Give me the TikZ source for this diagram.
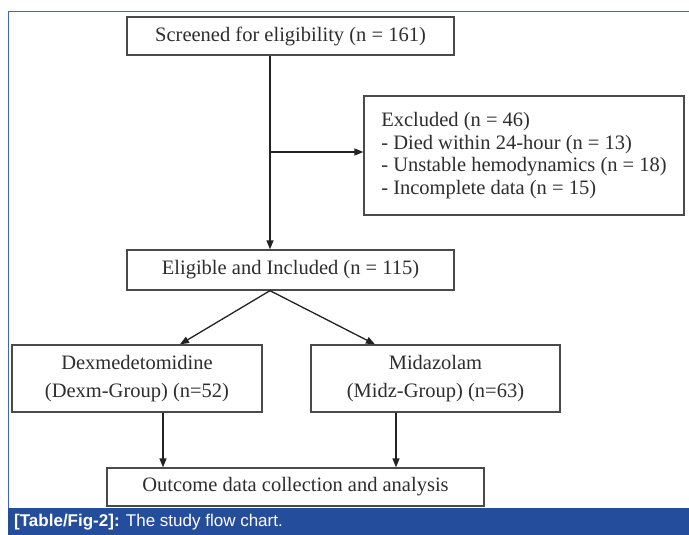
\documentclass[tikz,border=0pt]{standalone}
\usepackage{fontspec}
\setmainfont{Liberation Serif}
\newfontfamily\capfont{Liberation Sans}
\usetikzlibrary{arrows.meta}
\definecolor{boxgray}{HTML}{4A4A4A}
\definecolor{txtgray}{HTML}{2E2E2E}
\definecolor{arrgray}{HTML}{222222}
\definecolor{capblue}{HTML}{244E9B}
\definecolor{lineblue}{HTML}{3A66C0}
\tikzset{
  flowbox/.style={draw=boxgray, line width=1.3pt, text=txtgray, fill=white,
    inner sep=0pt, font=\fontsize{20.5}{28}\selectfont, align=center},
  arr/.style={draw=arrgray, line width=1.3pt, -{Triangle[length=9pt,width=7pt]}},
}
\begin{document}
\begin{tikzpicture}[x=1pt,y=-1pt]
\useasboundingbox (0,0) rectangle (689,535);
% frame lines
\draw[lineblue, line width=1.5pt] (8,11.5) -- (689,11.5);
\draw[lineblue, line width=1.5pt] (8.5,11.5) -- (8.5,508);
% caption bar
\fill[capblue] (8,508) rectangle (689,535);
\node[anchor=west, text=white, inner sep=0pt, font=\capfont\fontsize{17}{20}\selectfont] (cap) at (14,522)
  {\textbf{[Table/Fig-2]:} The study flow chart.};
% boxes
\node[flowbox, minimum width=327pt, minimum height=38pt] (scr) at (290.5,36) {Screened for eligibility (n = 161)};
\node[flowbox, minimum width=320pt, minimum height=119pt, align=left,
  font=\fontsize{20.5}{22.5}\selectfont] (exc) at (524,155.5)
  {Excluded (n = 46)\\- Died within 24-hour (n = 13)\\- Unstable hemodynamics (n = 18)\\- Incomplete data (n = 15)};
\node[flowbox, minimum width=327pt, minimum height=40pt] (eli) at (290.5,270) {Eligible and Included (n = 115)};
\node[flowbox, minimum width=250pt, minimum height=67pt] (dex) at (137,378.5) {Dexmedetomidine\\(Dexm-Group) (n=52)};
\node[flowbox, minimum width=249pt, minimum height=67pt] (mid) at (435.5,378.5) {Midazolam\\(Midz-Group) (n=63)};
\node[flowbox, minimum width=377pt, minimum height=38pt] (out) at (295.5,487) {Outcome data collection and analysis};
% helper x positions
\coordinate (trunk) at (270,0);
\coordinate (dxa) at (180,0);
\coordinate (mxa) at (375,0);
\coordinate (dxd) at (163,0);
\coordinate (mxd) at (396,0);
\coordinate (bry) at (0,152);
% connectors
\draw[arr] (scr.south -| trunk) -- (eli.north -| trunk);
\draw[arr] (trunk |- bry) -- (exc.west |- bry);
\draw[arr] (eli.south -| trunk) -- (dex.north -| dxa);
\draw[arr] (eli.south -| trunk) -- (mid.north -| mxa);
\draw[arr] (dex.south -| dxd) -- (out.north -| dxd);
\draw[arr] (mid.south -| mxd) -- (out.north -| mxd);
\end{tikzpicture}
\end{document}
